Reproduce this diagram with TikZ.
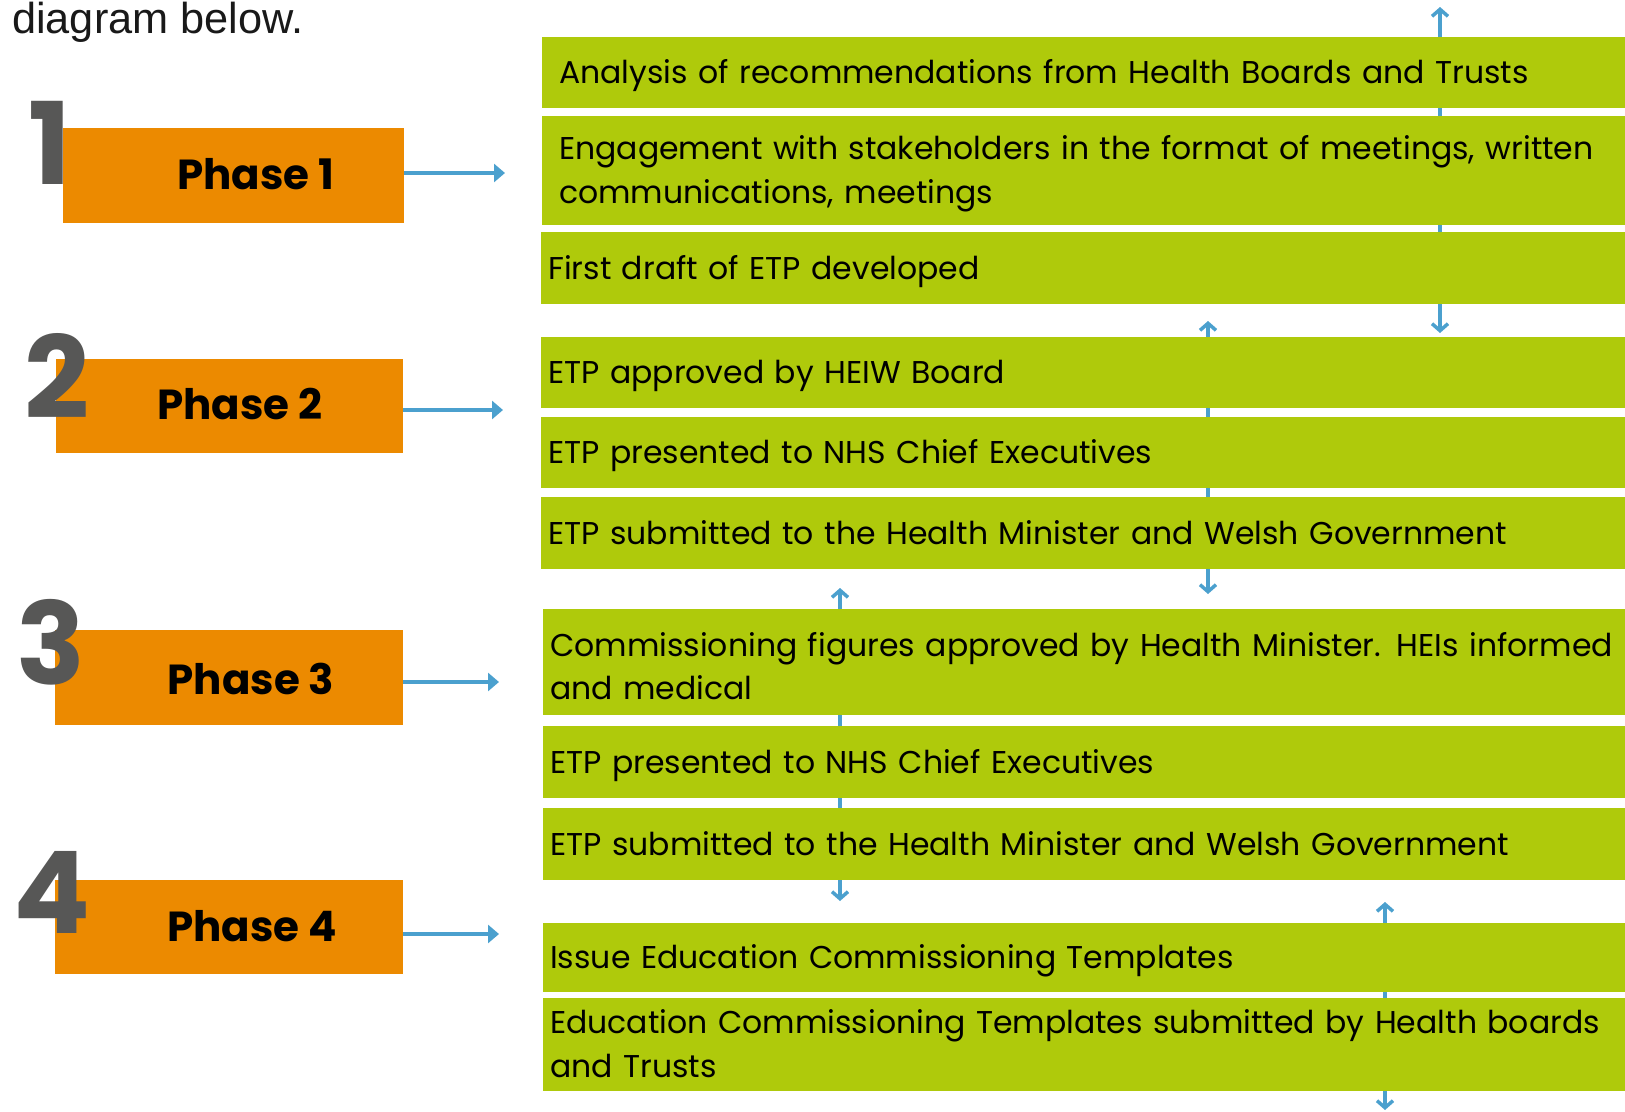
\documentclass[tikz,border=0pt]{standalone}
\usepackage{fontspec}
\setmainfont{Poppins}
\newfontfamily\captionfont{Liberation Sans}
\usetikzlibrary{arrows.meta}
\definecolor{tangerine}{HTML}{EC8A00}
\definecolor{leaf}{HTML}{AFCA0B}
\definecolor{steel}{HTML}{4BA0CE}
\definecolor{slate}{HTML}{575756}
\begin{document}
\begin{tikzpicture}[x=1pt,y=-1pt,
    phase/.style={fill=tangerine, anchor=north west, inner sep=0pt},
    phasetext/.style={font=\fontsize{42}{42}\selectfont\bfseries, inner sep=0pt},
    numeral/.style={font=\fontsize{114}{114}\selectfont\bfseries, text=slate, anchor=base west, inner sep=0pt},
    task/.style={fill=leaf, anchor=north west, inner xsep=7pt, inner ysep=0pt, text width=1074pt, align=left,
      text height=22pt, text depth=0pt, font=\fontsize{31.5}{43.5}\selectfont},
    taskwide/.style={task, inner xsep=17pt, text width=1054pt},
    twoline/.style={text depth=43.5pt},
    flow/.style={draw=steel, line width=4.5pt, -{Triangle[length=11pt,width=18pt]}},
    vlink/.style={draw=steel, line width=3.5pt, {Straight Barb[length=7pt,width=16pt]}-{Straight Barb[length=7pt,width=16pt]}}]
   \useasboundingbox (0,0) rectangle (1625,1111);
   % connectors behind the rows
   \coordinate (ua) at (1440,7);    \coordinate (da) at (1440,333);
   \coordinate (ub) at (1208,321);  \coordinate (db) at (1208,594);
   \coordinate (uc) at (840,588);   \coordinate (dc) at (840,901);
   \coordinate (ud) at (1385,902);  \coordinate (dd) at (1385,1110);
   \draw[vlink] (ua) -- (da);
   \draw[vlink] (ub) -- (db);
   \draw[vlink] (uc) -- (dc);
   \draw[vlink] (ud) -- (dd);

   \node[anchor=base west, inner sep=0pt, font=\captionfont\fontsize{43.3}{43.3}\selectfont, text=black!90] (cap) at (12,33) {diagram below.};

   \node[phase, minimum width=341pt, minimum height=95pt] (p1) at (63,128) {};
   \node[phase, minimum width=347pt, minimum height=94pt] (p2) at (56,359) {};
   \node[phase, minimum width=348pt, minimum height=95pt] (p3) at (55,630) {};
   \node[phase, minimum width=348pt, minimum height=94pt] (p4) at (55,880) {};
   \node[phasetext] (t1) at (256,174) {Phase 1};
   \node[phasetext] (t2) at (240,404) {Phase 2};
   \node[phasetext] (t3) at (251,679) {Phase 3};
   \node[phasetext] (t4) at (252,926) {Phase 4};
   \node[numeral] (n1) at (28,184) {1};
   \node[numeral] (n2) at (24,418) {2};
   \node[numeral] (n3) at (16,684) {3};
   \node[numeral] (n4) at (13,933) {4};

   \coordinate (a1) at (505,173);
   \coordinate (a2) at (503,410);
   \coordinate (a3) at (499,682);
   \coordinate (a4) at (499,934);
   \draw[flow] (p1.east |- a1) -- (a1);
   \draw[flow] (p2.east |- a2) -- (a2);
   \draw[flow] (p3.east |- a3) -- (a3);
   \draw[flow] (p4.east |- a4) -- (a4);

   \node[taskwide, minimum height=71pt] (r1) at (542,37) {Analysis of recommendations from Health Boards and Trusts};
   \node[taskwide, twoline, minimum height=109pt] (r2) at (542,116) {Engagement with stakeholders in the format of meetings, written\\communications, meetings};
   \node[task, minimum height=72pt] (r3) at (541,232) {First draft of ETP developed};
   \node[task, minimum height=71pt] (r4) at (541,337) {ETP approved by HEIW Board};
   \node[task, minimum height=71pt] (r5) at (541,417) {ETP presented to NHS Chief Executives};
   \node[task, minimum height=72pt] (r6) at (541,497) {ETP submitted to the Health Minister and Welsh Government};
   \node[task, twoline, text height=32pt, minimum height=106pt] (r7) at (543,609) {Commissioning figures approved by Health Minister. HEIs informed\\and medical};
   \node[task, minimum height=72pt] (r8) at (543,726) {ETP presented to NHS Chief Executives};
   \node[task, minimum height=72pt] (r9) at (543,808) {ETP submitted to the Health Minister and Welsh Government};
   \node[task, minimum height=69pt] (r10) at (543,923) {Issue Education Commissioning Templates};
   \node[task, twoline, minimum height=93pt] (r11) at (543,998) {Education Commissioning Templates submitted by Health boards\\and Trusts};
\end{tikzpicture}
\end{document}
